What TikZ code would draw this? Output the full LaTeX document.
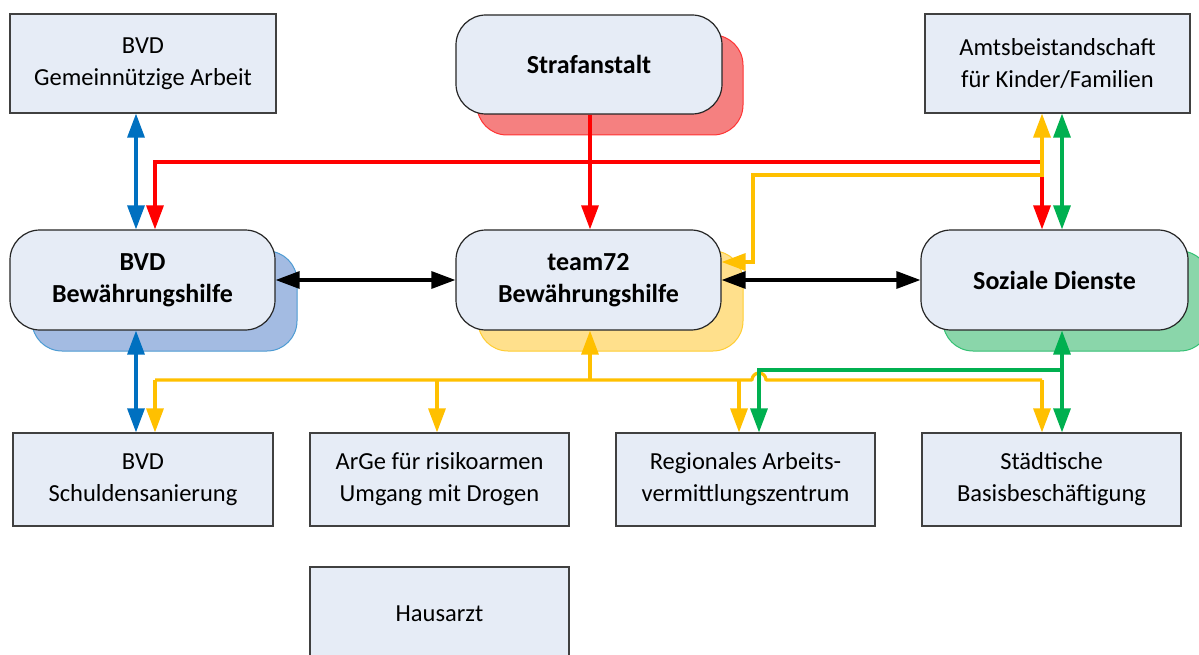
\documentclass[tikz,border=0pt]{standalone}
\usepackage{fontspec}
\setmainfont{Carlito}
\usetikzlibrary{arrows.meta}
\definecolor{boxfill}{HTML}{E6ECF6}
\definecolor{oblue}{HTML}{0070C0}
\definecolor{ored}{HTML}{FF0000}
\definecolor{oyellow}{HTML}{FFC000}
\definecolor{ogreen}{HTML}{00B050}
\definecolor{shblue}{HTML}{A3BBE2}
\definecolor{shred}{HTML}{F58080}
\definecolor{shyellow}{HTML}{FFE08C}
\definecolor{shgreen}{HTML}{8AD6AA}
\tikzset{
  rectbox/.style={draw=black!75, line width=1.2pt, fill=boxfill, align=center,
    minimum width=259pt, minimum height=93pt, inner sep=0pt,
    font=\fontsize{24.5}{32}\selectfont},
  roundbox/.style={draw=black!85, line width=1.2pt, fill=boxfill, align=center,
    rounded corners=30pt, minimum width=265pt, minimum height=100pt, inner sep=0pt,
    font=\fontsize{26}{32}\selectfont\bfseries},
  shadowbox/.style={rounded corners=30pt, line width=1pt},
  conn/.style={line width=3.2pt},
  tip/.tip={Triangle[length=24pt,width=17pt]},
}
\begin{document}
\begin{tikzpicture}[x=1pt,y=-1pt]
\useasboundingbox (0,0) rectangle (1199,655);
\clip (0,0) rectangle (1199,655);
\fill[white] (0,0) rectangle (1199,655);

% shadows
\draw[shadowbox, fill=shred, draw=ored!80] (477,35) rectangle (743,135);
\draw[shadowbox, fill=shblue, draw=oblue!70] (32,251) rectangle (297,351);
\draw[shadowbox, fill=shyellow, draw=oyellow!80] (478,251) rectangle (743,351);
\draw[shadowbox, fill=shgreen, draw=ogreen!80] (943,251) rectangle (1210,351);

% nodes
\node[rectbox, minimum width=266pt, minimum height=99pt] (gem) at (143,63.5) {BVD\\Gemeinnützige Arbeit};
\node[rectbox, minimum width=265pt, minimum height=99pt] (amts) at (1057.5,63.5) {Amtsbeistandschaft\\für Kinder/Familien};
\node[roundbox, minimum width=266pt, minimum height=99pt] (straf) at (589,64.5) {Strafanstalt};
\node[roundbox] (bvd) at (142.5,280) {BVD\\Bewährungshilfe};
\node[roundbox] (team) at (588.5,280) {team72\\Bewährungshilfe};
\node[roundbox, minimum width=267pt] (soz) at (1054.5,280) {Soziale Dienste};
\node[rectbox, minimum width=260pt] (schuld) at (143,479.5) {BVD\\Schuldensanierung};
\node[rectbox] (arge) at (439.5,479.5) {ArGe für risikoarmen\\Umgang mit Drogen};
\node[rectbox] (reg) at (745.5,479.5) {Regionales Arbeits-\\vermittlungszentrum};
\node[rectbox] (stadt) at (1051.5,479.5) {Städtische\\Basisbeschäftigung};
\node[rectbox, minimum height=93pt] (haus) at (439.5,613.5) {Hausarzt};

% helper coordinates
\coordinate (xB) at (136,0);
\coordinate (xL) at (155,0);
\coordinate (xM) at (590,0);
\coordinate (xA) at (1042,0);
\coordinate (xG) at (1062,0);
\coordinate (xY) at (753,0);
\coordinate (xArge) at (437,0);
\coordinate (xReg) at (739,0);
\coordinate (xRegG) at (759,0);
\coordinate (yRed) at (0,162);
\coordinate (yYel) at (0,175);
\coordinate (yIn) at (0,262);
\coordinate (yBot) at (0,380);
\coordinate (yGr) at (0,370);

% blue
\draw[conn, oblue, tip-tip] (gem.south -| xB) -- (bvd.north -| xB);
\draw[conn, oblue, tip-tip] (bvd.south -| xB) -- (schuld.north -| xB);

% red
\draw[conn, ored, -tip] (straf.south -| xM) -- (team.north -| xM);
\draw[conn, ored, tip-tip] (bvd.north -| xL) -- (xL |- yRed) -- (xA |- yRed) -- (soz.north -| xA);

% yellow top
\draw[conn, oyellow, tip-tip] (amts.south -| xA) -- (xA |- yYel) -- (xY |- yYel) -- (xY |- yIn) -- (team.east |- yIn);

% green top
\draw[conn, ogreen, tip-tip] (amts.south -| xG) -- (soz.north -| xG);

% black
\draw[conn, black, tip-tip] (bvd.east) -- (team.west);
\draw[conn, black, tip-tip] (team.east) -- (soz.west);

% yellow bottom
\draw[conn, oyellow, tip-] (team.south -| xM) -- (xM |- yBot);
\draw[conn, oyellow, -tip] (xL |- yBot) -- (schuld.north -| xL);
\draw[conn, oyellow, line join=round] (xL |- yBot) -- (752,380) arc[start angle=180, end angle=0, radius=7pt] -- (xA |- yBot);
\draw[conn, oyellow, -tip] (xArge |- yBot) -- (arge.north -| xArge);
\draw[conn, oyellow, -tip] (xReg |- yBot) -- (reg.north -| xReg);
\draw[conn, oyellow, -tip] (xA |- yBot) -- (stadt.north -| xA);

% green bottom
\draw[conn, ogreen, tip-tip] (soz.south -| xG) -- (stadt.north -| xG);
\draw[conn, ogreen, -tip] (xG |- yGr) -- (xRegG |- yGr) -- (reg.north -| xRegG);
\end{tikzpicture}
\end{document}
